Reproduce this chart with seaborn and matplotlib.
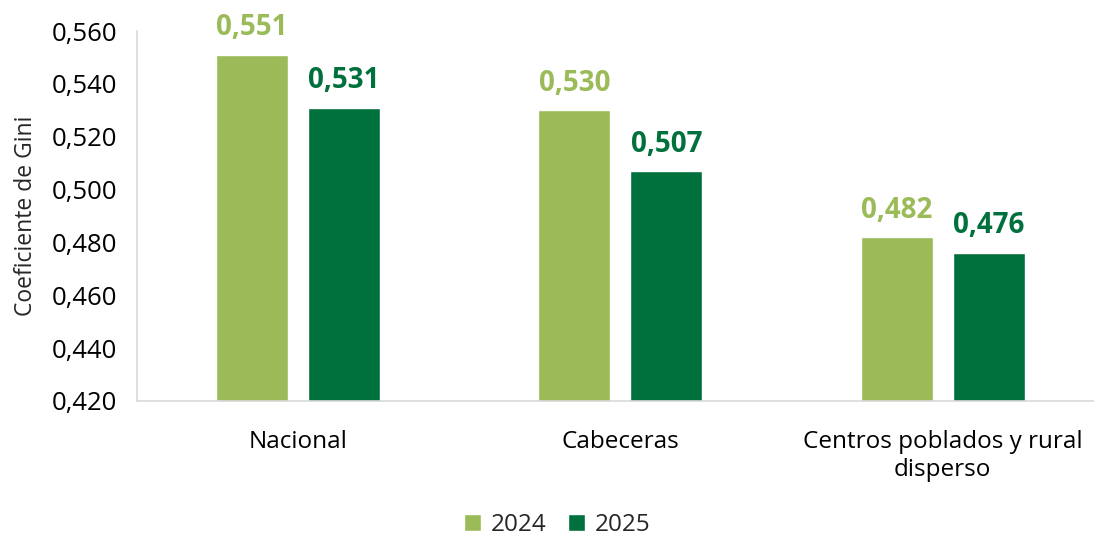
import pandas as pd
import matplotlib
matplotlib.use("Agg")
import matplotlib.pyplot as plt
import seaborn as sns
from matplotlib.ticker import FuncFormatter

categorias = ["Nacional", "Cabeceras", "Centros poblados y rural\ndisperso"]
anios = ["2024", "2025"]
gini_2024 = [0.551, 0.530, 0.482]
gini_2025 = [0.531, 0.507, 0.476]

colores = {"2024": "#9BBB59", "2025": "#00703C"}

df = pd.DataFrame({
    "categoria": categorias * 2,
    "anio": ["2024"] * 3 + ["2025"] * 3,
    "gini": gini_2024 + gini_2025,
})

sns.set_style("white")
plt.rcParams["font.family"] = ["Open Sans", "DejaVu Sans"]

fig = plt.figure(figsize=(10.94, 5.44), dpi=100)
# the plot area runs a little past the right edge, as in the original
ax = fig.add_axes([0.125, 0.263, 0.884, 0.68])

sns.barplot(data=df, x="categoria", y="gini", hue="anio", palette=colores,
            width=0.571, gap=0.217, saturation=1, ax=ax, legend=True)

ax.set_ylim(0.42, 0.56)
ax.set_xlim(-0.5, 2.5)
ax.set_yticks([0.42 + 0.02 * i for i in range(8)])
ax.yaxis.set_major_formatter(FuncFormatter(lambda v, p: f"{v:.3f}".replace(".", ",")))
ax.tick_params(axis="y", labelsize=18.5, length=0, colors="#000000", pad=14)
ax.tick_params(axis="x", labelsize=17.5, length=0, colors="#000000", pad=21)
ax.set_xlabel("")
ax.set_ylabel("Coeficiente de Gini", fontsize=16.5, labelpad=10)

for s in ["top", "right"]:
    ax.spines[s].set_visible(False)
for s in ["left", "bottom"]:
    ax.spines[s].set_color("#D9D9D9")
    ax.spines[s].set_linewidth(1.2)

for cont, anio in zip(ax.containers, anios):
    for bar in cont:
        h = bar.get_height()
        ax.annotate(f"{h:.3f}".replace(".", ","),
                    (bar.get_x() + bar.get_width() / 2, h),
                    xytext=(0, 9), textcoords="offset points",
                    ha="center", va="bottom", fontsize=20, fontweight="bold",
                    color=colores[anio])

ax.legend(loc="lower center", bbox_to_anchor=(0.435, -0.415), ncol=2,
          frameon=False, fontsize=17.5, handlelength=0.7, handleheight=0.7,
          handletextpad=0.4, columnspacing=0.9, borderpad=0.2)

fig.savefig("out.png", dpi=100)
